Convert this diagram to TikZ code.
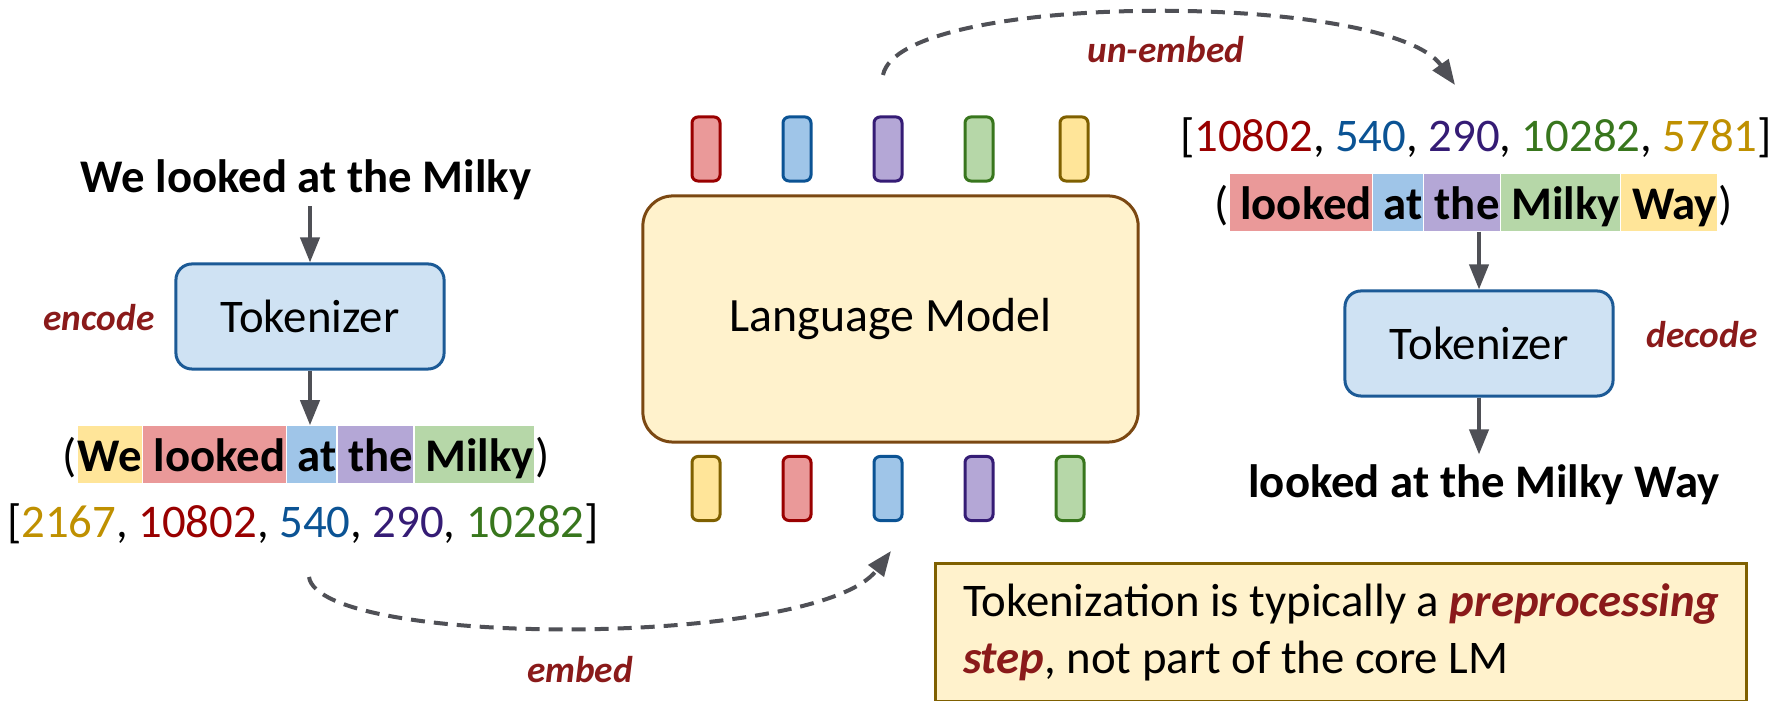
\documentclass[tikz,border=0pt]{standalone}
\usepackage{fontspec}
\setmainfont{Carlito}
\usepackage{xcolor}
\usepackage{tikz}
\usetikzlibrary{arrows.meta, positioning}

\definecolor{redfill}{HTML}{EA9999}
\definecolor{redline}{HTML}{990000}
\definecolor{bluefill}{HTML}{9FC5E8}
\definecolor{blueline}{HTML}{0B5394}
\definecolor{purplefill}{HTML}{B4A7D6}
\definecolor{purpleline}{HTML}{351C75}
\definecolor{greenfill}{HTML}{B6D7A8}
\definecolor{greenline}{HTML}{38761D}
\definecolor{yellowfill}{HTML}{FFE599}
\definecolor{yellowline}{HTML}{7F6000}
\definecolor{yellownum}{HTML}{BF9000}
\definecolor{tokfill}{HTML}{CFE2F3}
\definecolor{tokline}{HTML}{1C5A96}
\definecolor{lmfill}{HTML}{FFF2CC}
\definecolor{lmline}{HTML}{7B4812}
\definecolor{labelred}{HTML}{8A1A1A}
\definecolor{arrowgray}{HTML}{4F5056}

\newcommand{\bigtext}{\fontsize{13.3}{16.2}\selectfont}
\newcommand{\tagtext}{\fontsize{10.6}{12}\selectfont\bfseries\itshape\color{labelred}}

\begin{document}
\begin{tikzpicture}[x=0.01cm, y=-0.01cm,
		vec/.style={shape=rectangle, rounded corners=0.06cm, draw=#1line, fill=#1fill, line width=0.03cm, minimum width=0.28cm, minimum height=0.64cm, inner sep=0pt},
		tokenizer/.style={shape=rectangle, rounded corners=0.16cm, draw=tokline, fill=tokfill, line width=0.03cm, minimum width=2.68cm, minimum height=1.05cm, font=\bigtext},
		piece/.style={shape=rectangle, fill=#1fill, inner sep=0pt, text height=0.46cm, text depth=0.11cm, font=\bigtext\bfseries},
		paren/.style={shape=rectangle, inner sep=0pt, text height=0.46cm, text depth=0.11cm, font=\bigtext},
		ids/.style={font=\bigtext, inner sep=0pt},
		tag/.style={font=\tagtext, inner sep=0pt},
		flow/.style={draw=arrowgray, line width=0.04cm, -{Triangle[length=0.25cm, width=0.19cm]}},
		dashflow/.style={flow, dash pattern=on 0.14cm off 0.09cm}]
	% Paths, nodes and arrows:
	\useasboundingbox (0,0) rectangle (1773,701);
	% encoder side
	\node[font=\bigtext\bfseries, anchor=base, inner sep=0.05cm](title) at (306,193){We looked at the Milky};
	\node[tokenizer](tokL) at (310,316.5){Tokenizer};
	\node[tag](enc) at (99,318){encode};
	\node[piece=yellow, anchor=base west](lw1) at (77,472){We};
	\node[piece=red, right=0pt of lw1](lw2){\ looked};
	\node[piece=blue, right=0pt of lw2](lw3){\ at};
	\node[piece=purple, right=0pt of lw3](lw4){\ the};
	\node[piece=green, right=0pt of lw4](lw5){\ Milky};
	\node[paren, left=0pt of lw1](lpo){(};
	\node[paren, right=0pt of lw5](lpc){)};
	\node[ids, anchor=base](numL) at (303,538){[\textcolor{yellownum}{2167}, \textcolor{redline}{10802}, \textcolor{blueline}{540}, \textcolor{purpleline}{290}, \textcolor{greenline}{10282}]};
	\draw[flow] (title.south -| tokL.north) -- (tokL);
	\draw[flow] (tokL) -- (tokL.south |- lw3.north);
	% the model and its vectors
	\node[shape=rectangle, rounded corners=0.3cm, draw=lmline, fill=lmfill, line width=0.03cm, minimum width=4.95cm, minimum height=2.46cm, font=\fontsize{13.6}{16}\selectfont](lm) at (890.5,319){Language Model};
	\foreach \x/\c [count=\i] in {706/red, 797/blue, 888/purple, 979/green, 1074/yellow}
		\node[vec=\c](up\i) at (\x,149){};
	\foreach \x/\c [count=\i] in {706/yellow, 797/red, 888/blue, 979/purple, 1070/green}
		\node[vec=\c](dn\i) at (\x,488.5){};
	\coordinate (embA) at (309,577);
	\coordinate (embB) at (891,551);
	\draw[dashflow] (embA) .. controls (320,648) and (818,648) .. (embB);
	\node[tag](emb) at (580,670){embed};
	\coordinate (unA) at (883,75);
	\coordinate (unB) at (1455,85);
	\draw[dashflow] (unA) .. controls (900,-9) and (1388,-9) .. (unB);
	\node[tag](unemb) at (1166,50){un-embed};
	% decoder side
	\node[ids, anchor=base](numR) at (1476,152){[\textcolor{redline}{10802}, \textcolor{blueline}{540}, \textcolor{purpleline}{290}, \textcolor{greenline}{10282}, \textcolor{yellownum}{5781}]};
	\node[piece=red, anchor=base west](rw1) at (1229,220){\ looked};
	\node[piece=blue, right=0pt of rw1](rw2){\ at};
	\node[piece=purple, right=0pt of rw2](rw3){\ the};
	\node[piece=green, right=0pt of rw3](rw4){\ Milky};
	\node[piece=yellow, right=0pt of rw4](rw5){\ Way};
	\node[paren, left=0pt of rw1](rpo){(};
	\node[paren, right=0pt of rw5](rpc){)};
	\node[tokenizer](tokR) at (1479,343.5){Tokenizer};
	\node[tag](dec) at (1702,335){decode};
	\node[font=\bigtext\bfseries, anchor=base, inner sep=0.1cm](out) at (1484,498){looked at the Milky Way};
	\draw[flow] (tokR.north |- rw4.south) -- (tokR);
	\draw[flow] (tokR) -- (tokR.south |- out.north);
	% side note
	\node[shape=rectangle, draw=yellowline, fill=lmfill, line width=0.03cm, minimum width=8.11cm, minimum height=1.38cm, anchor=north west, align=left, font=\bigtext](note) at (934,562){Tokenization is typically a \textcolor{labelred}{\textbf{\textit{preprocessing}}}\\\textcolor{labelred}{\textbf{\textit{step}}}, not part of the core LM};
\end{tikzpicture}
\end{document}
